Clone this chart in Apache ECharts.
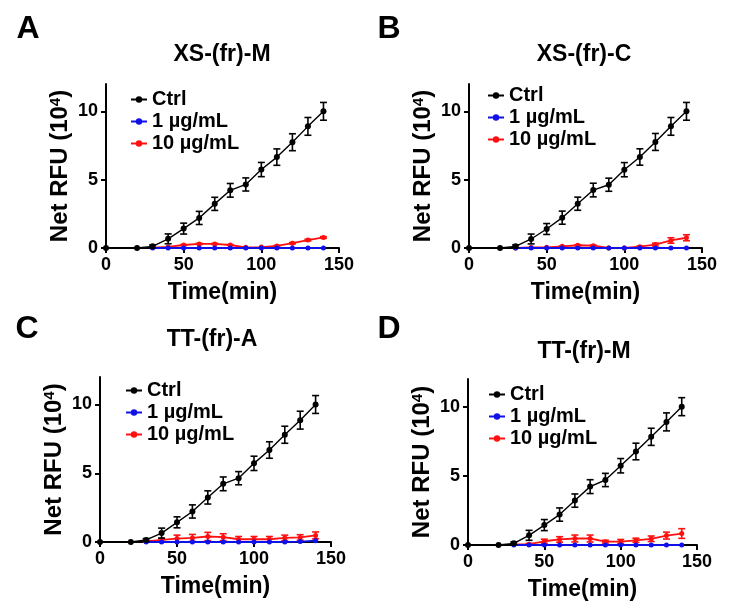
<!DOCTYPE html>
<html>
<head>
<meta charset="utf-8">
<script src="https://cdn.jsdelivr.net/npm/echarts@6/dist/echarts.min.js"></script>
<style>
html,body{margin:0;padding:0;background:#fff;}
#chart{width:729px;height:608px;}
</style>
</head>
<body>
<div id="chart"></div>
<script>
// ---- data ----
var panelLetters = ['A', 'B', 'C', 'D'];
var panelTitles = ['XS-(fr)-M', 'XS-(fr)-C', 'TT-(fr)-A', 'TT-(fr)-M'];
var seriesNames = ['Ctrl', '1 µg/mL', '10 µg/mL'];
var xTicks = [0, 50, 100, 150];
var yTicks = [0, 5, 10];

var timeCtrl = [0, 20, 30, 40, 50, 60, 70, 80, 90, 100, 110, 120, 130, 140];
var timeTreat = [30, 40, 50, 60, 70, 80, 90, 100, 110, 120, 130, 140];

var ctrlA = [0, 0, 0.12, 0.67, 1.42, 2.2, 3.23, 4.22, 4.65, 5.74, 6.65, 7.74, 8.9, 10.0];
var ctrlAErr = [0, 0, 0.1, 0.36, 0.4, 0.48, 0.48, 0.5, 0.48, 0.52, 0.6, 0.62, 0.65, 0.65];
var oneA = [0, 0, 0, 0, 0, 0, 0, 0, 0, 0, 0, 0];
var oneAErr = [0, 0, 0, 0, 0, 0, 0, 0, 0, 0, 0, 0];
var tenA = [0.03, 0.08, 0.22, 0.3, 0.3, 0.22, 0.05, 0.07, 0.15, 0.35, 0.58, 0.77];
var tenAErr = [0, 0, 0.03, 0.04, 0.04, 0.03, 0, 0, 0.03, 0.05, 0.06, 0.06];

var ctrlB = [0, 0, 0.12, 0.66, 1.39, 2.22, 3.24, 4.24, 4.63, 5.73, 6.66, 7.76, 8.9, 10.0];
var ctrlBErr = [0, 0, 0.1, 0.36, 0.4, 0.48, 0.48, 0.5, 0.48, 0.52, 0.6, 0.62, 0.65, 0.65];
var oneB = [0, 0, 0, 0, 0, 0, 0, 0, 0, 0, 0, 0];
var oneBErr = [0, 0, 0, 0, 0, 0, 0, 0, 0, 0, 0, 0];
var tenB = [0, 0.04, 0.05, 0.12, 0.2, 0.17, 0, 0, 0.1, 0.25, 0.55, 0.75];
var tenBErr = [0, 0, 0, 0.03, 0.04, 0.04, 0, 0, 0.04, 0.1, 0.2, 0.22];

var ctrlC = [0, 0, 0.15, 0.65, 1.43, 2.22, 3.24, 4.23, 4.64, 5.72, 6.69, 7.8, 8.86, 10.0];
var ctrlCErr = [0, 0, 0.1, 0.36, 0.4, 0.48, 0.48, 0.5, 0.48, 0.52, 0.6, 0.62, 0.65, 0.65];
var oneC = [0, 0, 0, 0, 0, 0, 0, 0, 0, 0, 0.03, 0.1];
var oneCErr = [0, 0, 0, 0, 0, 0, 0, 0, 0, 0, 0, 0];
var tenC = [0.05, 0.15, 0.25, 0.3, 0.4, 0.35, 0.2, 0.2, 0.2, 0.3, 0.33, 0.48];
var tenCErr = [0.05, 0.1, 0.25, 0.25, 0.3, 0.25, 0.2, 0.2, 0.2, 0.2, 0.2, 0.25];

var ctrlD = [0, 0, 0.12, 0.7, 1.44, 2.2, 3.21, 4.22, 4.7, 5.73, 6.76, 7.82, 8.9, 10.0];
var ctrlDErr = [0, 0, 0.1, 0.36, 0.4, 0.48, 0.48, 0.5, 0.48, 0.52, 0.6, 0.62, 0.65, 0.65];
var oneD = [0, 0, 0, 0, 0, 0, 0, 0, 0, 0, 0, 0];
var oneDErr = [0, 0, 0, 0, 0, 0, 0, 0, 0, 0, 0, 0];
var tenD = [0.05, 0.06, 0.27, 0.4, 0.47, 0.47, 0.24, 0.25, 0.34, 0.45, 0.68, 0.83];
var tenDErr = [0, 0.05, 0.15, 0.2, 0.25, 0.25, 0.1, 0.15, 0.15, 0.2, 0.25, 0.35];

var panelData = [
  [[ctrlA, ctrlAErr], [oneA, oneAErr], [tenA, tenAErr]],
  [[ctrlB, ctrlBErr], [oneB, oneBErr], [tenB, tenBErr]],
  [[ctrlC, ctrlCErr], [oneC, oneCErr], [tenC, tenCErr]],
  [[ctrlD, ctrlDErr], [oneD, oneDErr], [tenD, tenDErr]]
];

// ---- layout / style ----
var FONT = '"Liberation Sans", Arial, sans-serif';
var colors = ['#000000', '#1010e8', '#ff1010'];
var grids = [
  {left: 106, top: 84, width: 233, height: 164},
  {left: 469, top: 84, width: 233, height: 164},
  {left: 100, top: 377, width: 231, height: 165},
  {left: 468, top: 379, width: 229, height: 166}
];
var titlePos = [[222, 55], [584, 55], [212, 340], [584, 352]];
var letterPos = [[28, 29], [389, 29], [27, 329], [389, 329]];
var legendPos = [[125, 84], [482, 80], [120, 375], [483, 379]];

function errRender(color) {
  return function (params, api) {
    var x = api.value(0), lo = api.value(1), hi = api.value(2);
    if (hi - lo <= 0) return null;
    var p1 = api.coord([x, hi]), p2 = api.coord([x, lo]);
    var w = 3.5;
    var st = {stroke: color, lineWidth: 1.6};
    return {
      type: 'group',
      children: [
        {type: 'line', shape: {x1: p1[0], y1: p1[1], x2: p2[0], y2: p2[1]}, style: st},
        {type: 'line', shape: {x1: p1[0] - w, y1: p1[1], x2: p1[0] + w, y2: p1[1]}, style: st},
        {type: 'line', shape: {x1: p2[0] - w, y1: p2[1], x2: p2[0] + w, y2: p2[1]}, style: st}
      ]
    };
  };
}

var option = {
  backgroundColor: '#ffffff',
  animation: false,
  grid: [], xAxis: [], yAxis: [], series: [], legend: [], graphic: []
};

grids.forEach(function (g, i) {
  option.grid.push(g);
  option.xAxis.push({
    type: 'value', gridIndex: i, min: 0, max: 150, interval: 50,
    name: 'Time(min)', nameLocation: 'middle', nameGap: 33,
    nameTextStyle: {fontFamily: FONT, fontWeight: 'bold', fontSize: 23, color: '#000'},
    axisLine: {lineStyle: {color: '#000', width: 2}},
    axisTick: {show: true, length: 5, lineStyle: {color: '#000', width: 2}, customValues: xTicks},
    axisLabel: {fontFamily: FONT, fontWeight: 'bold', fontSize: 18, color: '#000', margin: 8, customValues: xTicks},
    splitLine: {show: false}
  });
  option.yAxis.push({
    type: 'value', gridIndex: i, min: 0, max: 12, interval: 5,
    name: 'Net RFU (10{sup|4})', nameLocation: 'middle', nameGap: 34,
    nameTextStyle: {fontFamily: FONT, fontWeight: 'bold', fontSize: 24, color: '#000',
      rich: {sup: {fontFamily: FONT, fontWeight: 'bold', fontSize: 15, color: '#000', verticalAlign: 'top', padding: [0, 0, 9, 0]}}},
    axisLine: {show: true, lineStyle: {color: '#000', width: 2}},
    axisTick: {show: true, length: 5, lineStyle: {color: '#000', width: 2}, customValues: yTicks},
    axisLabel: {fontFamily: FONT, fontWeight: 'bold', fontSize: 18, color: '#000', margin: 8, customValues: yTicks},
    splitLine: {show: false}
  });

  var order = [2, 1, 0];
  order.forEach(function (k) {
    var vals = panelData[i][k][0], errs = panelData[i][k][1];
    var xs = (k === 0) ? timeCtrl : timeTreat;
    option.series.push({
      type: 'custom', xAxisIndex: i, yAxisIndex: i, silent: true,
      renderItem: errRender(colors[k]), encode: {x: 0, y: [1, 2]},
      data: xs.map(function (t, j) { return [t, vals[j] - errs[j], vals[j] + errs[j]]; }),
      z: (k === 0 ? 5 : k === 2 ? 3 : 1), clip: false
    });
    option.series.push({
      type: 'line', name: seriesNames[k], xAxisIndex: i, yAxisIndex: i,
      data: xs.map(function (t, j) { return [t, vals[j]]; }),
      symbol: 'circle', symbolSize: k === 0 ? 6 : 5, showSymbol: true,
      itemStyle: {color: colors[k]},
      lineStyle: {color: colors[k], width: k === 0 ? 1.4 : 1.8},
      z: k === 0 ? 6 : (k === 1 ? 4 : 3), clip: false
    });
  });

  option.legend.push({
    orient: 'vertical', left: legendPos[i][0], top: legendPos[i][1],
    data: seriesNames, itemWidth: 16, itemHeight: 8, itemGap: 1,
    textStyle: {fontFamily: FONT, fontWeight: 'bold', fontSize: 20, color: '#000', lineHeight: 21},
    selectedMode: false
  });

  option.graphic.push({
    type: 'text', x: titlePos[i][0], y: titlePos[i][1],
    style: {text: panelTitles[i], font: 'bold 23px ' + FONT, fill: '#000', textAlign: 'center', textVerticalAlign: 'middle'}
  });
  option.graphic.push({
    type: 'text', x: letterPos[i][0], y: letterPos[i][1],
    style: {text: panelLetters[i], font: 'bold 32px ' + FONT, fill: '#000', textAlign: 'center', textVerticalAlign: 'middle'}
  });
});

var chart = echarts.init(document.getElementById('chart'), null, {renderer: 'canvas'});
chart.setOption(option);
</script>
</body>
</html>
